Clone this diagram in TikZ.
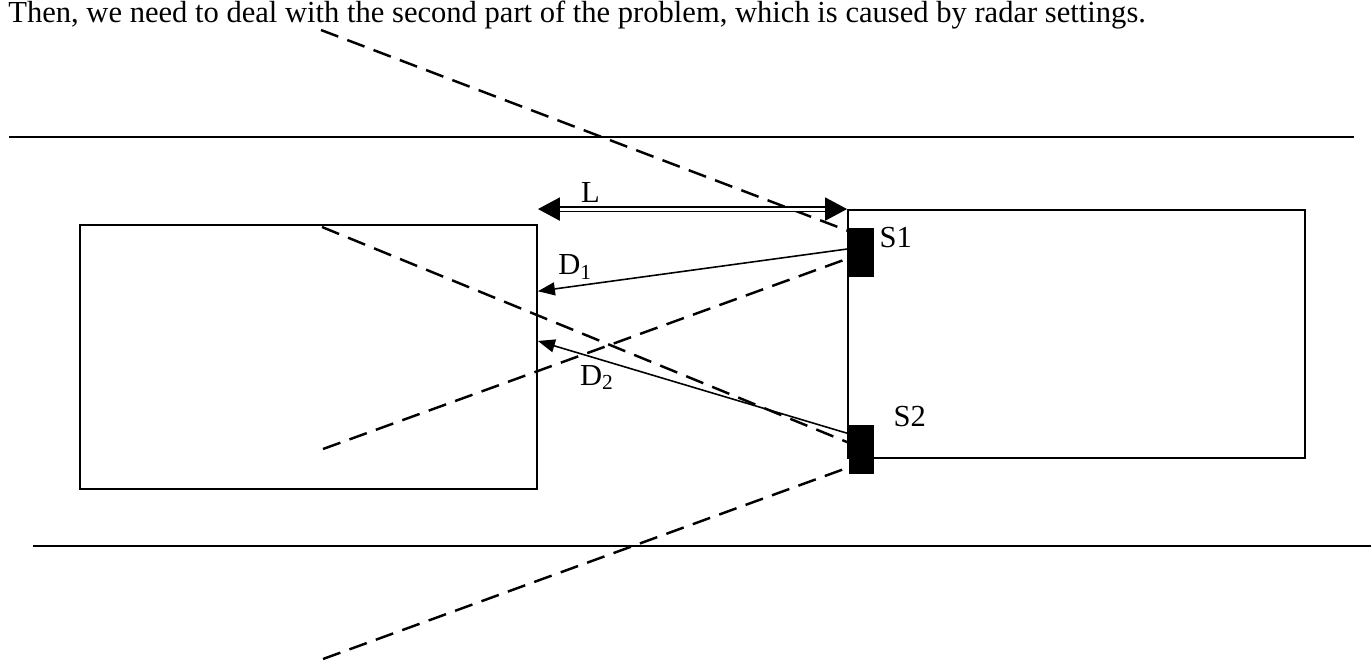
\documentclass[tikz,border=0pt]{standalone}
\usepackage{fontspec}
\setmainfont{Liberation Serif}
\usetikzlibrary{positioning,arrows.meta}

\begin{document}
\begin{tikzpicture}[x=0.02cm, y=-0.02cm, font=\fontsize{17.4}{20}\selectfont,
  car/.style={draw, line width=1.1pt, inner sep=0, minimum width=9.14cm},
  sensor/.style={fill=black, inner sep=0, minimum width=0.5cm, minimum height=0.98cm},
  beam/.style={line width=1.4pt, dash pattern=on 10.5pt off 5.5pt},
  gap/.style={line width=0.9pt, -{Triangle[length=0.34cm, width=0.26cm]}},
  road/.style={line width=1.1pt}]

\useasboundingbox (0,0) rectangle (1371,662);

\node[anchor=base west, inner sep=0] (title) at (8,22.5) {Then, we need to deal with the second part of the problem, which is caused by radar settings.};

% road
\draw[road] (9,137) -- (1354,137);
\draw[road] (33,546) -- (1371,546);

% cars and sensors
\node[car, minimum height=5.28cm] (A) at (308.5,357) {};
\node[car, minimum height=4.96cm] (B) at (1076.5,334) {};
\node[sensor] (S1) at (861.5,252.5) {};
\node[sensor] (S2) at (861.5,449) {};
\node[inner sep=0] (t1) [right=0.1cm of S1, yshift=0.29cm] {S1};
\node[inner sep=0] (t2) [right=0.38cm of S2, yshift=0.64cm] {S2};

% beam edges
\coordinate (b1) at (321,30);
\coordinate (b2) at (322,227);
\coordinate (b3) at (323,449);
\coordinate (b4) at (323,659);
\draw[beam] (b1) -- (S1.121);
\draw[beam] (b3) -- (S1.204);
\draw[beam] (b2) -- (S2.154);
\draw[beam] (b4) -- (S2.235);

% distances
\draw[line width=1.1pt, double distance=0.06cm,
  {Triangle[length=0.44cm, width=0.46cm]}-{Triangle[length=0.44cm, width=0.46cm]}]
  (B.north west -| A.east) -- (B.north west) node[pos=0.17, above] {L};
\draw[gap] (S1.164) -- (A.16) node[pos=0.88, above] {D\textsubscript{1}};
\draw[gap] (S2.130) -- (A.4) node[pos=0.81, below] {D\textsubscript{2}};

\end{tikzpicture}
\end{document}
